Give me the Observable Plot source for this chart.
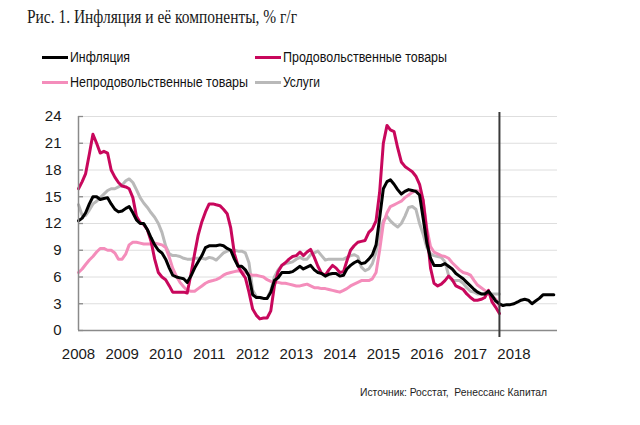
<!DOCTYPE html>
<html>
<head>
<meta charset="utf-8">
<script src="https://cdn.jsdelivr.net/npm/d3@7"></script>
<script src="https://cdn.jsdelivr.net/npm/@observablehq/plot@0.6"></script>
<style>
  body { margin: 0; background: #fff; }
  #wrap { position: relative; width: 640px; height: 425px; overflow: hidden; font-family: "Liberation Sans", Arial, sans-serif; }
  #chart { position: absolute; left: 0; top: 0; }
  #title { position: absolute; left: 27px; top: 7px; font-family: "Liberation Serif", "Times New Roman", serif; font-size: 18px; color: #1a1a1a; white-space: nowrap; transform-origin: left center; line-height: 20px; }
  .sw { position: absolute; width: 26px; height: 3px; }
  .lt { position: absolute; font-size: 15.5px; line-height: 16px; color: #111; white-space: nowrap; transform-origin: left center; }
  #caption { position: absolute; left: 360px; top: 385px; font-size: 11.5px; line-height: 14px; color: #222; white-space: nowrap; transform-origin: left center; }
</style>
</head>
<body>
<div id="wrap">
  <div id="chart"></div>
  <div id="title">Рис. 1. Инфляция и её компоненты, % г/г</div>
  <div id="legend"></div>
  <div id="caption">Источник: Росстат,&nbsp; Ренессанс Капитал</div>
</div>
<script>
// ---- Data (% y/y, monthly from Jan 2008) ----
const seriesNames = ["Инфляция", "Продовольственные товары", "Непродовольственные товары", "Услуги"];
const seriesColors = ["#000000", "#c8075c", "#f48dbb", "#b9b9b9"];

// headline inflation, Jan 2008 – Sep 2017 actual, Oct 2017 – Dec 2018 forecast
const inflation = [
  12.3, 12.6, 13.2, 14.2, 15.0, 15.0, 14.7, 14.8, 14.9, 14.2, 13.6, 13.3,
  13.4, 13.7, 13.9, 13.2, 12.4, 12.0, 12.0, 11.3, 10.4, 9.6, 9.0, 8.7,
  8.0, 7.0, 6.2, 6.0, 5.9, 5.8, 5.4, 6.1, 7.0, 7.7, 8.4, 9.3,
  9.5, 9.5, 9.5, 9.6, 9.5, 9.2, 9.0, 8.0, 7.2, 7.2, 6.8, 6.1,
  4.0, 3.7, 3.7, 3.6, 3.6, 4.3, 5.6, 5.9, 6.5, 6.5, 6.5, 6.6,
  6.9, 7.2, 6.9, 7.1, 7.3, 6.8, 6.5, 6.4, 6.1, 6.3, 6.4, 6.4,
  6.1, 6.2, 6.9, 7.3, 7.6, 7.8, 7.5, 7.6, 8.0, 8.5, 9.6, 12.6,
  15.9, 16.7, 16.9, 16.4, 15.8, 15.3, 15.6, 15.8, 15.7, 15.6, 15.2, 12.6,
  9.8, 8.1, 7.3, 7.3, 7.3, 7.5, 7.2, 6.9, 6.4, 6.1, 5.8, 5.4,
  5.0, 4.6, 4.3, 4.1, 4.1, 4.4, 3.9, 3.3, 3.0, 2.8, 2.9, 2.9,
  3.0, 3.2, 3.4, 3.5, 3.4, 3.0, 3.3, 3.6, 4.0, 4.0, 4.0, 4.0
];
const food = [
  15.9, 16.7, 17.6, 19.8, 22.0, 21.0, 19.9, 20.1, 19.9, 18.0, 17.2, 16.6,
  16.2, 16.1, 15.9, 14.9, 12.8, 12.1, 11.9, 11.3, 10.0, 8.0, 6.5, 6.0,
  5.7, 5.0, 4.3, 4.3, 4.3, 4.3, 4.2, 6.3, 8.6, 10.7, 12.2, 13.3,
  14.2, 14.2, 14.1, 14.0, 13.6, 13.1, 11.5, 8.6, 7.2, 6.5, 5.9, 4.3,
  2.4, 1.7, 1.3, 1.4, 1.4, 2.2, 5.0, 6.6, 7.3, 7.6, 8.0, 8.3,
  8.4, 8.8, 8.4, 8.8, 9.1, 8.2, 7.2, 6.4, 6.2, 6.8, 7.3, 7.0,
  6.5, 6.6, 7.8, 9.0, 9.5, 9.9, 10.0, 10.1, 11.0, 11.4, 12.3, 15.5,
  21.0, 23.0, 22.5, 22.3, 20.5, 18.9, 18.4, 18.1, 17.8, 17.3, 16.4, 14.6,
  11.0, 7.0, 5.3, 5.0, 5.2, 5.6, 6.1, 5.7, 5.0, 4.8, 4.6, 4.1,
  3.7, 3.4, 3.4, 3.5, 3.7, 4.5, 3.2, 2.6, 1.9
];
const nonFood = [
  6.5, 6.9, 7.4, 7.9, 8.3, 8.8, 9.2, 9.2, 9.0, 9.0, 8.7, 8.0,
  8.0, 8.6, 9.6, 9.9, 9.9, 9.8, 9.7, 9.7, 9.7, 9.8, 9.7, 9.6,
  9.3, 8.2, 7.0, 6.1, 5.4, 4.9, 4.5, 4.4, 4.4, 4.7, 5.0, 5.3,
  5.5, 5.6, 5.7, 5.9, 6.2, 6.4, 6.5, 6.6, 6.7, 6.6, 6.5, 6.3,
  6.2, 6.2, 6.1, 6.0, 5.7, 5.5, 5.4, 5.4, 5.3, 5.3, 5.2, 5.1,
  5.0, 5.0, 5.1, 5.2, 5.0, 4.8, 4.8, 4.7, 4.7, 4.6, 4.5, 4.4,
  4.3, 4.5, 4.7, 5.0, 5.2, 5.4, 5.6, 5.6, 5.6, 5.8, 6.5, 9.0,
  12.0, 13.2, 13.9, 14.1, 14.3, 14.5, 14.9, 15.2, 15.5, 15.7, 15.6, 14.6,
  11.5, 9.4, 8.8, 8.6, 8.4, 8.3, 8.1, 7.6, 7.2, 6.8, 6.5, 6.4,
  6.2, 5.6, 5.1, 4.8, 4.5, 4.2, 3.9, 3.5, 2.7
];
const services = [
  14.1, 12.9, 12.9, 13.5, 14.2, 14.5, 14.9, 15.3, 15.7, 15.9, 15.9, 16.1,
  16.3, 16.8, 17.0, 16.6, 15.8, 14.9, 14.3, 13.8, 13.2, 12.7, 12.0, 11.0,
  9.5, 8.6, 8.4, 8.4, 8.3, 8.1, 8.0, 8.0, 8.1, 8.1, 8.1, 8.0,
  8.2, 8.1, 7.9, 8.3, 8.7, 8.9, 9.0, 9.0, 8.9, 8.9, 8.7, 7.6,
  4.5, 3.8, 3.7, 3.6, 3.6, 4.5, 6.0, 6.8, 7.3, 7.5, 7.6, 7.7,
  8.0, 8.2, 8.0, 8.0, 8.5, 8.7, 8.9, 8.4, 7.9, 8.0, 8.0, 8.0,
  8.0, 8.0, 8.2, 8.4, 8.5, 8.3, 7.1, 6.7, 6.9, 7.5, 8.8, 10.9,
  12.3, 12.8, 12.3, 11.9, 11.6, 12.0, 12.8, 13.8, 13.9, 13.6, 12.0, 10.8,
  9.3, 8.6, 8.4, 8.3, 8.2, 7.7, 6.2, 5.6, 5.6, 5.6, 5.3, 4.8,
  4.4, 4.3, 4.1, 4.1, 4.1, 4.1, 4.1, 4.1, 4.1
];
const yTicks = [0, 3, 6, 9, 12, 15, 18, 21, 24];
const yearLabels = [2008, 2009, 2010, 2011, 2012, 2013, 2014, 2015, 2016, 2017, 2018];
const startYear = 2008;
const endYear = 2019;
const forecastStartMonth = 116; // Sep 2017 (months since Jan 2008)

// ---- Build table ----
const monthDate = i => new Date(Date.UTC(startYear, i, 1));
const seriesValues = [inflation, food, nonFood, services];
const rows = [];
seriesValues.forEach((vals, k) => vals.forEach((v, i) => rows.push({date: monthDate(i), value: v, series: seriesNames[k]})));
const bySeries = name => rows.filter(r => r.series === name);

const chart = Plot.plot({
  width: 640,
  height: 425,
  marginTop: 116,
  marginBottom: 95,
  marginLeft: 78,
  marginRight: 83,
  style: {fontFamily: "'Liberation Sans', Arial, sans-serif", fontSize: "15px", color: "#1a1a1a", background: "transparent"},
  x: {type: "utc", domain: [new Date(Date.UTC(startYear, 0, 1)), new Date(Date.UTC(endYear, 0, 1))], label: null},
  y: {domain: [0, 24], label: null},
  color: {domain: seriesNames, range: seriesColors},
  marks: [
    Plot.ruleY(yTicks.filter(d => d > 0), {stroke: "#dedede", strokeWidth: 1}),
    Plot.axisY({ticks: yTicks, tickSize: -5, tickFormat: () => "", label: null, stroke: "#8a8a8a", strokeWidth: 1.3}),
    Plot.axisY({ticks: yTicks, tickSize: 0, tickPadding: 17, label: null, fill: "#1a1a1a"}),
    Plot.axisX({ticks: yearLabels.map(y => new Date(Date.UTC(y, 0, 1))), tickSize: 0, tickPadding: 18, tickFormat: d3.utcFormat("%Y"), label: null, fill: "#1a1a1a"}),
    Plot.line(bySeries(seriesNames[3]), {x: "date", y: "value", stroke: "series", strokeWidth: 3, strokeLinejoin: "round"}),
    Plot.line(bySeries(seriesNames[2]), {x: "date", y: "value", stroke: "series", strokeWidth: 3, strokeLinejoin: "round"}),
    Plot.line(bySeries(seriesNames[1]), {x: "date", y: "value", stroke: "series", strokeWidth: 3, strokeLinejoin: "round"}),
    Plot.line(bySeries(seriesNames[0]), {x: "date", y: "value", stroke: "series", strokeWidth: 3, strokeLinejoin: "round"}),
    Plot.ruleY([0], {stroke: "#8a8a8a", strokeWidth: 1.5}),
    Plot.ruleX([monthDate(0)], {stroke: "#8a8a8a", strokeWidth: 1.5}),
    Plot.ruleX([monthDate(forecastStartMonth)], {stroke: "#3a3a3a", strokeWidth: 2, insetTop: -4, insetBottom: -7})
  ]
});
document.getElementById("chart").appendChild(chart);

// ---- Legend ----
const legendLayout = [
  {left: 42, cy: 57, w: 60},
  {left: 255, cy: 57, w: 164},
  {left: 42, cy: 82, w: 178},
  {left: 255, cy: 82, w: 37}
];
const legend = document.getElementById("legend");
seriesNames.forEach((name, k) => {
  const L = legendLayout[k];
  const sw = document.createElement("div");
  sw.className = "sw";
  sw.style.left = L.left + "px";
  sw.style.top = (L.cy - 1.5) + "px";
  sw.style.background = seriesColors[k];
  legend.appendChild(sw);
  const t = document.createElement("div");
  t.className = "lt";
  t.textContent = name;
  t.style.left = (L.left + 28) + "px";
  t.style.top = (L.cy - 8) + "px";
  legend.appendChild(t);
  const w = t.getBoundingClientRect().width;
  t.style.transform = `scaleX(${L.w / w})`;
});
function fitWidth(id, target) {
  const el = document.getElementById(id);
  const w = el.getBoundingClientRect().width;
  el.style.transform = `scaleX(${target / w})`;
}
fitWidth("title", 270);
fitWidth("caption", 187);
</script>
</body>
</html>
